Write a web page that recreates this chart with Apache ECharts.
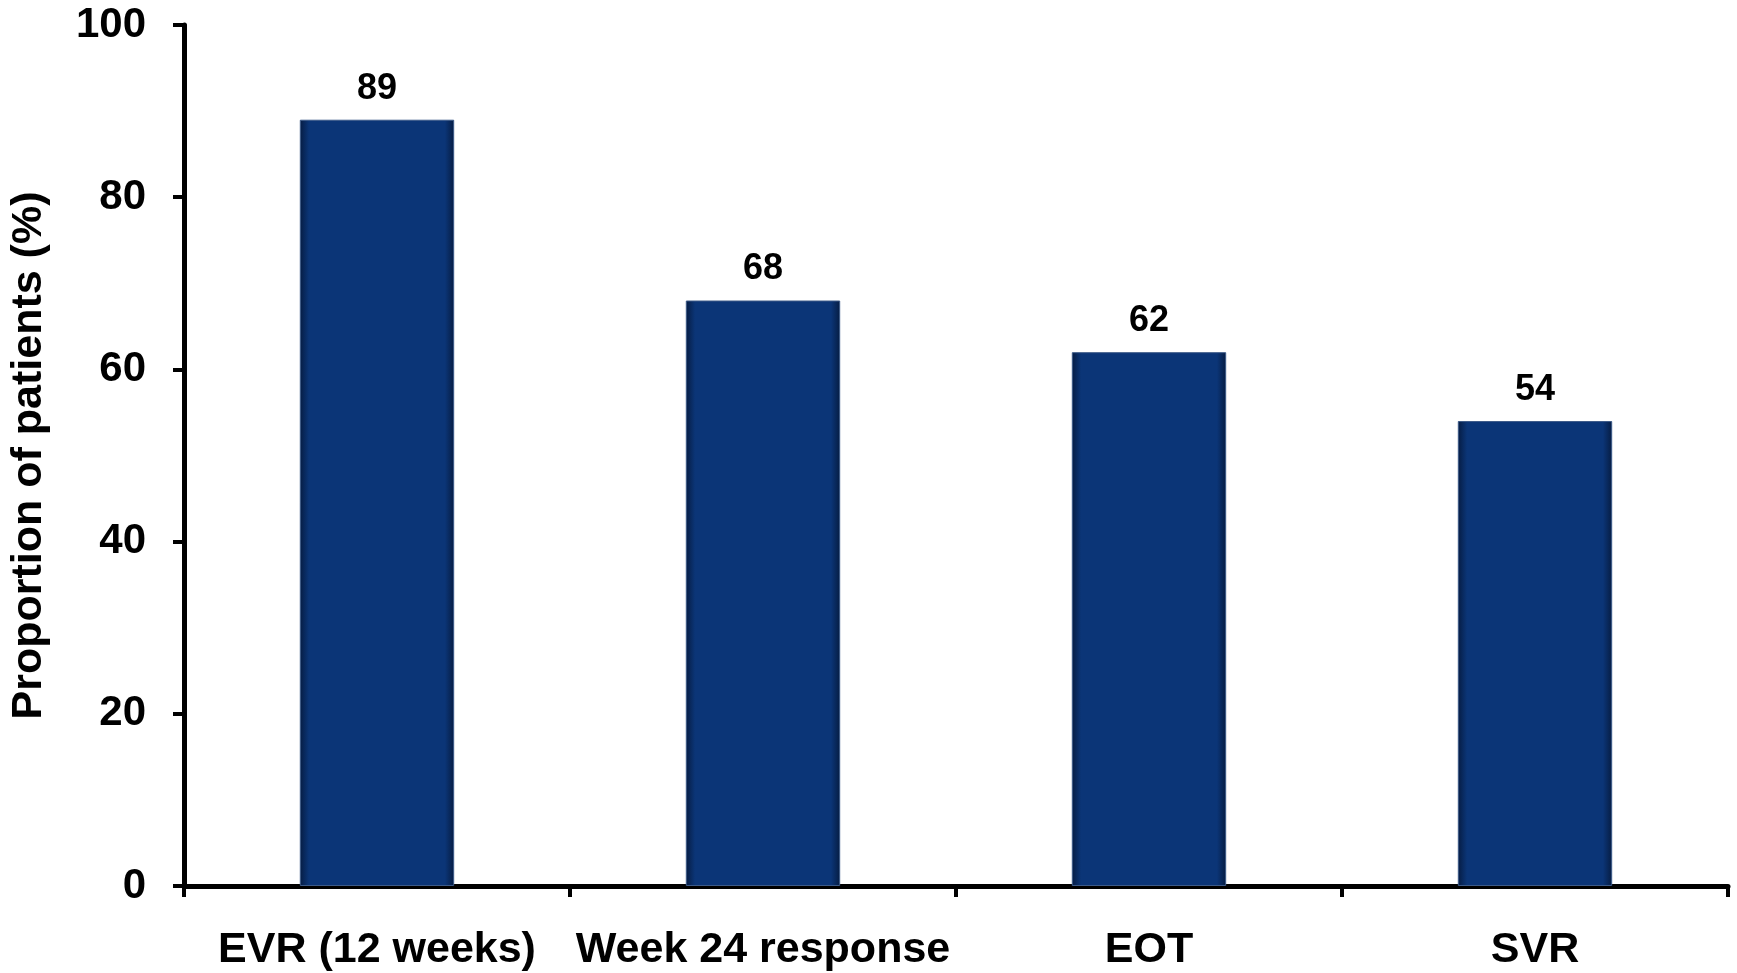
<!DOCTYPE html>
<html>
<head>
<meta charset="utf-8">
<script src="https://cdn.jsdelivr.net/npm/echarts@6/dist/echarts.min.js"></script>
<style>
  html, body { margin: 0; padding: 0; background: #ffffff; }
  #chart { width: 1737px; height: 973px; }
</style>
</head>
<body>
<div id="chart"></div>
<script>
// Response rates by treatment milestone
const categories = ['EVR (12 weeks)', 'Week 24 response', 'EOT', 'SVR'];
const proportions = [89, 68, 62, 54];
const yTicks = [0, 20, 40, 60, 80, 100];

const FONT = '"Liberation Sans", Arial, Helvetica, sans-serif';

const barFill = new echarts.graphic.LinearGradient(0, 0, 1, 0, [
  { offset: 0, color: '#061c42' },
  { offset: 0.06, color: '#0b3577' },
  { offset: 0.94, color: '#0b3577' },
  { offset: 1, color: '#061c42' }
]);

const chart = echarts.init(document.getElementById('chart'), null, { renderer: 'canvas' });

chart.setOption({
  backgroundColor: '#ffffff',
  animation: false,
  grid: { left: 183, right: 9, top: 25, bottom: 87, containLabel: false },
  xAxis: {
    type: 'category',
    data: categories,
    boundaryGap: true,
    axisLine: { show: true, lineStyle: { color: '#000000', width: 5 } },
    axisTick: { show: true, length: 11, alignWithLabel: false, lineStyle: { color: '#000000', width: 4 } },
    axisLabel: {
      color: '#000000',
      fontFamily: FONT,
      fontWeight: 'bold',
      fontSize: 43,
      margin: 43,
      interval: 0
    },
    splitLine: { show: false }
  },
  yAxis: {
    type: 'value',
    min: yTicks[0],
    max: yTicks[yTicks.length - 1],
    interval: 20,
    name: 'Proportion of patients (%)',
    nameLocation: 'middle',
    nameGap: 133,
    nameRotate: 90,
    nameTextStyle: {
      color: '#000000',
      fontFamily: FONT,
      fontWeight: 'bold',
      fontSize: 43
    },
    axisLine: { show: true, lineStyle: { color: '#000000', width: 5 } },
    axisTick: { show: true, length: 11, lineStyle: { color: '#000000', width: 4 } },
    axisLabel: {
      color: '#000000',
      fontFamily: FONT,
      fontWeight: 'bold',
      fontSize: 42,
      margin: 38
    },
    splitLine: { show: false }
  },
  series: [{
    type: 'bar',
    data: proportions,
    barWidth: '40%',
    itemStyle: {
      color: barFill,
      borderColor: '#3c5a88',
      borderWidth: 1
    },
    label: {
      show: true,
      position: 'top',
      distance: 13,
      color: '#000000',
      fontFamily: FONT,
      fontWeight: 'bold',
      fontSize: 36
    }
  }]
});
</script>
</body>
</html>
